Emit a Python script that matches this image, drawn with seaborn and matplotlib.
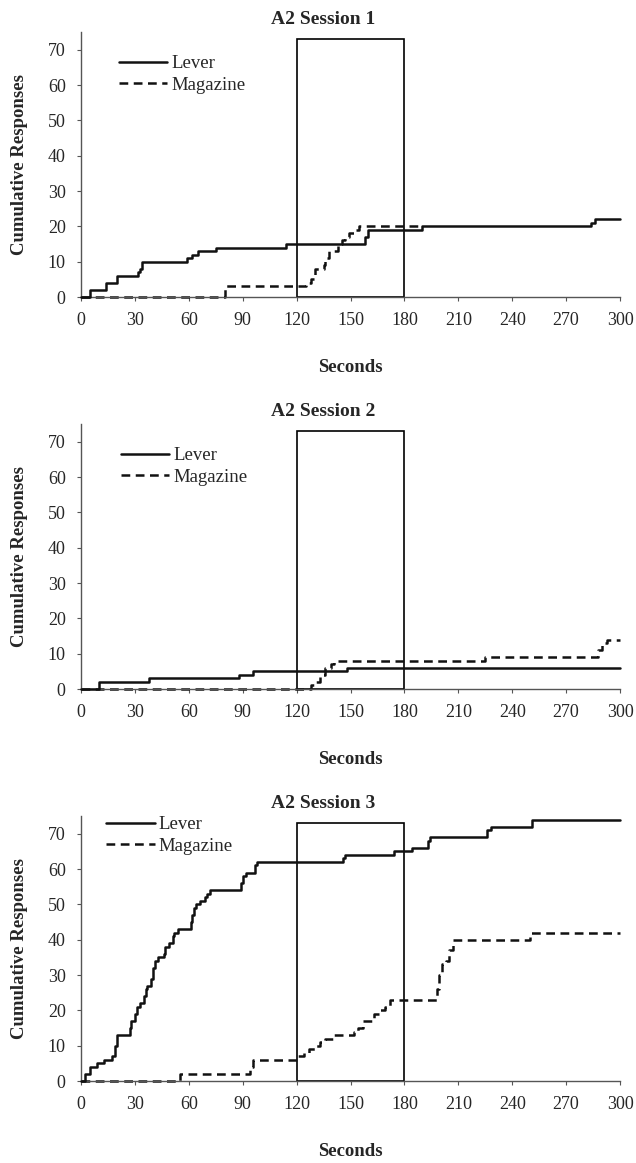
import pandas as pd
import seaborn as sns
import matplotlib.pyplot as plt
from matplotlib.patches import Rectangle

# axis ticks
seconds_ticks = [0, 30, 60, 90, 120, 150, 180, 210, 240, 270, 300]
response_ticks = [0, 10, 20, 30, 40, 50, 60, 70]
session_titles = ["A2 Session 1", "A2 Session 2", "A2 Session 3"]

# session 1 (time of step, cumulative count after step)
s1_lever_t = [0, 5, 14, 20, 32, 33, 34, 59, 62, 65, 75, 114, 158, 160, 190, 284, 286, 300]
s1_lever_n = [0, 2, 4, 6, 7, 8, 10, 11, 12, 13, 14, 15, 17, 19, 20, 21, 22, 22]
s1_mag_t = [0, 80, 125, 128, 130, 135, 136, 138, 143, 145, 147, 149, 153, 155, 190]
s1_mag_n = [0, 3, 4, 5, 8, 9, 11, 13, 15, 16, 17, 18, 19, 20, 20]

# session 2
s2_lever_t = [0, 10, 38, 88, 96, 148, 300]
s2_lever_n = [0, 2, 3, 4, 5, 6, 6]
s2_mag_t = [0, 128, 131, 133, 136, 139, 141, 225, 288, 290, 293, 300]
s2_mag_n = [0, 1, 2, 4, 6, 7, 8, 9, 11, 13, 14, 14]

# session 3
s3_lever_t = [0, 2, 5, 9, 13, 17, 19, 20, 27, 28, 30, 31, 33, 35, 36, 37, 39, 40, 41,
              43, 46, 47, 49, 51, 52, 54, 61, 62, 63, 64, 66, 69, 70, 72, 89, 90, 92,
              97, 98, 146, 147, 174, 184, 193, 194, 226, 228, 251, 300]
s3_lever_n = [0, 2, 4, 5, 6, 7, 10, 13, 15, 17, 19, 21, 22, 24, 26, 27, 29, 32, 34,
              35, 36, 38, 39, 41, 42, 43, 45, 47, 49, 50, 51, 52, 53, 54, 56, 58, 59,
              61, 62, 63, 64, 65, 66, 68, 69, 71, 72, 74, 74]
s3_mag_t = [0, 55, 94, 96, 121, 124, 127, 130, 133, 136, 141, 152, 154, 157, 163, 166,
            169, 172, 198, 199, 201, 203, 205, 207, 250, 300]
s3_mag_n = [0, 2, 4, 6, 7, 8, 9, 10, 11, 12, 13, 14, 15, 17, 19, 20,
            21, 23, 26, 30, 33, 34, 37, 40, 42, 42]

sessions = [
    (s1_lever_t, s1_lever_n, s1_mag_t, s1_mag_n, (21, 68.5)),
    (s2_lever_t, s2_lever_n, s2_mag_t, s2_mag_n, (22, 68.5)),
    (s3_lever_t, s3_lever_n, s3_mag_t, s3_mag_n, (14, 75.0)),
]

sns.set_style("ticks")
plt.rcParams['font.family'] = ['Liberation Serif', 'DejaVu Serif']

W, H = 636, 1163
fig = plt.figure(figsize=(W / 100, H / 100), dpi=100)

ax_left, ax_w, ax_h = 81, 539, 265
zero_rows = [297, 689, 1081]

for i, (lt, ln, mt, mn, leg) in enumerate(sessions):
    y0 = zero_rows[i]
    ax = fig.add_axes([ax_left / W, (H - y0) / H, ax_w / W, ax_h / H])

    # stimulus box
    ax.add_patch(Rectangle((120, 0), 60, 73, fill=False, ec='black', lw=1.2, zorder=1))

    sns.lineplot(x=lt, y=ln, ax=ax, color='#111111', linewidth=1.8,
                 drawstyle='steps-post', estimator=None, sort=False,
                 label='Lever', clip_on=False, zorder=3)
    sns.lineplot(x=mt, y=mn, ax=ax, color='#111111', linewidth=1.8,
                 linestyle=(0, (3.5, 2.2)), drawstyle='steps-post',
                 estimator=None, sort=False, label='Magazine', clip_on=False, zorder=2)

    ax.set_xlim(0, 300)
    ax.set_ylim(0, 75)
    ax.set_xticks(seconds_ticks)
    ax.set_yticks(response_ticks)
    ax.tick_params(axis='both', labelsize=13, length=3, width=0.8, color='#555555', pad=8)

    for side in ['top', 'right']:
        ax.spines[side].set_visible(False)
    for side in ['left', 'bottom']:
        ax.spines[side].set_color('#555555')
        ax.spines[side].set_linewidth(1.0)

    ax.set_xlabel('')
    ax.set_ylabel('Cumulative Responses', fontsize=13.5, fontweight='bold')
    ax.yaxis.set_label_coords(-53 / ax_w, 0.5)
    ax.text(0.5, -70 / ax_h, 'Seconds', transform=ax.transAxes, ha='center', va='center',
            fontsize=13.5, fontweight='bold')
    ax.text(0.45, 1 + 12 / ax_h, session_titles[i], transform=ax.transAxes, ha='center',
            va='center', fontsize=14, fontweight='bold')

    ax.legend(loc='upper left', bbox_to_anchor=(leg[0] / 300, leg[1] / 75), frameon=False,
              fontsize=13.5, handlelength=2.6, handletextpad=0.2, labelspacing=0.25,
              borderpad=0, borderaxespad=0)

fig.savefig('out.png', dpi=100)
